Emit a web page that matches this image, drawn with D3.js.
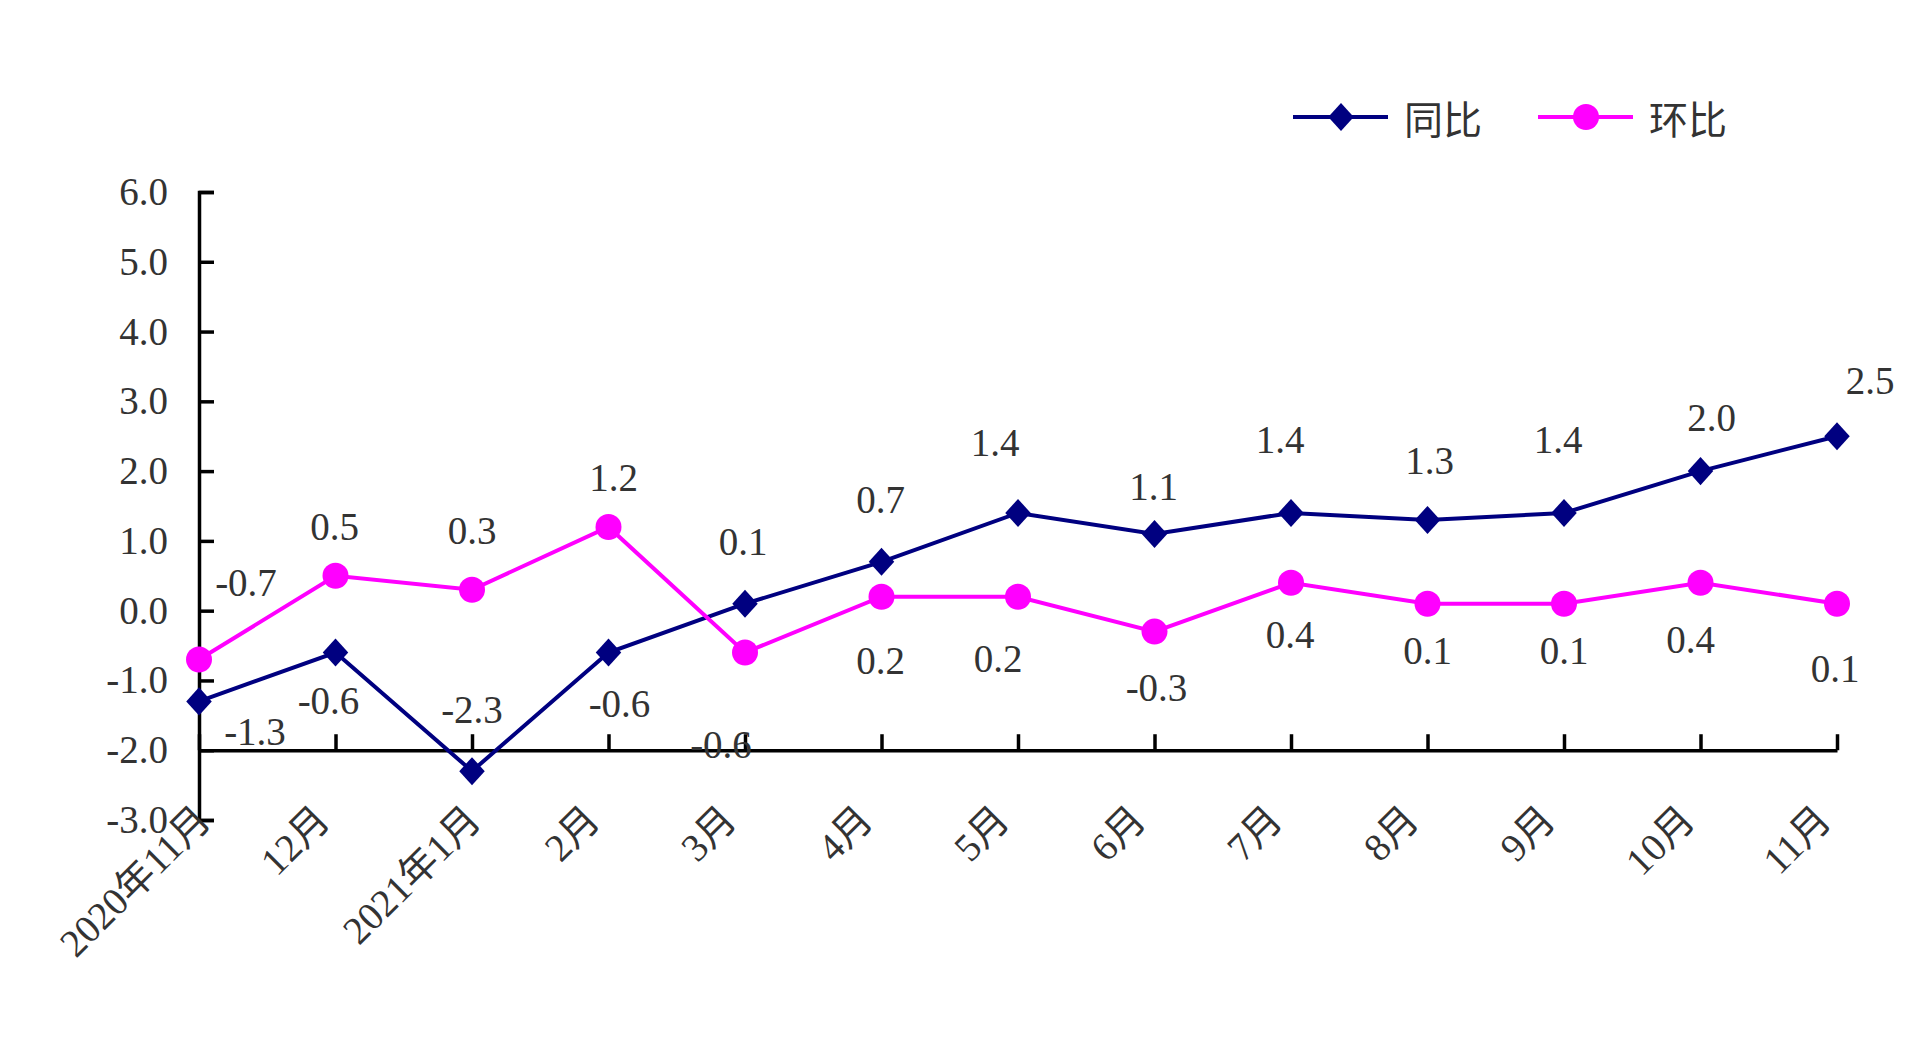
<!DOCTYPE html>
<html>
<head>
<meta charset="utf-8">
<script src="https://cdn.jsdelivr.net/npm/d3@7"></script>
<style>
  html, body { margin: 0; padding: 0; background: #fff; }
  svg text { font-family: "Liberation Serif", "Noto Sans CJK SC", serif; fill: #333; }
</style>
</head>
<body>
<svg id="chart"></svg>
<script>
// data
const months = ["2020年11月", "12月", "2021年1月", "2月", "3月", "4月", "5月", "6月", "7月", "8月", "9月", "10月", "11月"];
const yoy = [-1.3, -0.6, -2.3, -0.6, 0.1, 0.7, 1.4, 1.1, 1.4, 1.3, 1.4, 2.0, 2.5];   // 同比
const mom = [-0.7, 0.5, 0.3, 1.2, -0.6, 0.2, 0.2, -0.3, 0.4, 0.1, 0.1, 0.4, 0.1];    // 环比
const yTicks = [-3, -2, -1, 0, 1, 2, 3, 4, 5, 6];
const seriesNames = ["同比", "环比"];

// where each value label sits relative to its point
const yoyLabelOffset = [[56, 30], [-7, 48], [0, -62], [11, 51], [-2, -62], [-1, -62], [-23, -70],
    [-1, -47], [-11, -73], [2, -59], [-6, -73], [11, -54], [33, -56]];
const momLabelOffset = [[47, -77], [-1, -49], [0, -59], [5, -49], [-24, 92], [-1, 64], [-20, 62],
    [2, 56], [-1, 52], [0, 47], [0, 47], [-10, 57], [-2, 65]];

const width = 1920, height = 1038;
const svg = d3.select("#chart").attr("width", width).attr("height", height);

const x = d3.scalePoint().domain(months).range([199, 1837]);
const y = d3.scaleLinear().domain([-3, 6]).range([820, 192]);

const colors = { yoy: "#000080", mom: "#ff00ff" };
const fmt = v => d3.format(".1f")(v).replace("\u2212", "-");

// y axis, ticks pointing inward
const yAxis = svg.append("g")
    .attr("transform", `translate(${x(months[0])},0)`)
    .call(d3.axisLeft(y).tickValues(yTicks).tickSize(-15).tickPadding(31).tickFormat(fmt));
yAxis.select(".domain").attr("stroke", "#000").attr("stroke-width", 3.5);
yAxis.selectAll(".tick line").attr("stroke", "#000").attr("stroke-width", 3.5);
yAxis.selectAll(".tick text")
    .attr("font-size", 39)
    .attr("font-family", null)
    .attr("fill", null);

// x axis crosses at -2
const xAxis = svg.append("g")
    .attr("transform", `translate(0,${y(-2)})`)
    .call(d3.axisBottom(x).tickSize(-16).tickSizeOuter(0));
xAxis.select(".domain").attr("stroke", "#000").attr("stroke-width", 3.5);
xAxis.selectAll(".tick line").attr("stroke", "#000").attr("stroke-width", 3.5);
xAxis.selectAll(".tick text")
    .attr("font-size", 39)
    .attr("font-family", null)
    .attr("fill", null)
    .attr("text-anchor", "end")
    .attr("dy", null)
    .attr("y", 0)
    .attr("transform", function () {
        // longer labels sit a little further right in the original
        const w = this.getComputedTextLength();
        return `translate(${-4 + 0.15 * (w - 78)},72) rotate(-45)`;
    });

const line = d3.line()
    .x((d, i) => x(months[i]))
    .y(d => y(d));

svg.append("path")
    .datum(yoy)
    .attr("fill", "none")
    .attr("stroke", colors.yoy)
    .attr("stroke-width", 4)
    .attr("d", line);

svg.append("path")
    .datum(mom)
    .attr("fill", "none")
    .attr("stroke", colors.mom)
    .attr("stroke-width", 4)
    .attr("d", line);

// slightly tall diamond, like the original marker
const diamondType = {
    draw(ctx, size) {
        const r = Math.sqrt(size) / 2;
        ctx.moveTo(0, -r * 1.1);
        ctx.lineTo(r, 0);
        ctx.lineTo(0, r * 1.1);
        ctx.lineTo(-r, 0);
        ctx.closePath();
    }
};
const diamond = d3.symbol().type(diamondType).size(650);

svg.append("g").selectAll("path")
    .data(yoy)
    .join("path")
    .attr("d", diamond)
    .attr("fill", colors.yoy)
    .attr("transform", (d, i) => `translate(${x(months[i])},${y(d)})`);

svg.append("g").selectAll("circle")
    .data(mom)
    .join("circle")
    .attr("cx", (d, i) => x(months[i]))
    .attr("cy", d => y(d))
    .attr("r", 13)
    .attr("fill", colors.mom);

svg.append("g").selectAll("text")
    .data(yoy)
    .join("text")
    .attr("x", (d, i) => x(months[i]) + yoyLabelOffset[i][0])
    .attr("y", (d, i) => y(d) + yoyLabelOffset[i][1])
    .attr("text-anchor", "middle")
    .attr("dominant-baseline", "central")
    .attr("font-size", 39)
    .text(fmt);

svg.append("g").selectAll("text")
    .data(mom)
    .join("text")
    .attr("x", (d, i) => x(months[i]) + momLabelOffset[i][0])
    .attr("y", (d, i) => y(d) + momLabelOffset[i][1])
    .attr("text-anchor", "middle")
    .attr("dominant-baseline", "central")
    .attr("font-size", 39)
    .text(fmt);

// legend
const legend = svg.append("g").attr("transform", "translate(1293,117)");
const items = legend.selectAll("g")
    .data(seriesNames)
    .join("g")
    .attr("transform", (d, i) => `translate(${i * 245},0)`);

items.append("line")
    .attr("x1", 0).attr("x2", 95)
    .attr("stroke", (d, i) => i === 0 ? colors.yoy : colors.mom)
    .attr("stroke-width", 4);

items.filter((d, i) => i === 0).append("path")
    .attr("d", diamond)
    .attr("fill", colors.yoy)
    .attr("transform", "translate(48,0)");

items.filter((d, i) => i === 1).append("circle")
    .attr("cx", 48).attr("r", 13)
    .attr("fill", colors.mom);

items.append("text")
    .attr("x", 111)
    .attr("dominant-baseline", "central")
    .attr("font-size", 39)
    .style("font-family", "'Noto Sans CJK SC', sans-serif")
    .text(d => d);
</script>
</body>
</html>
